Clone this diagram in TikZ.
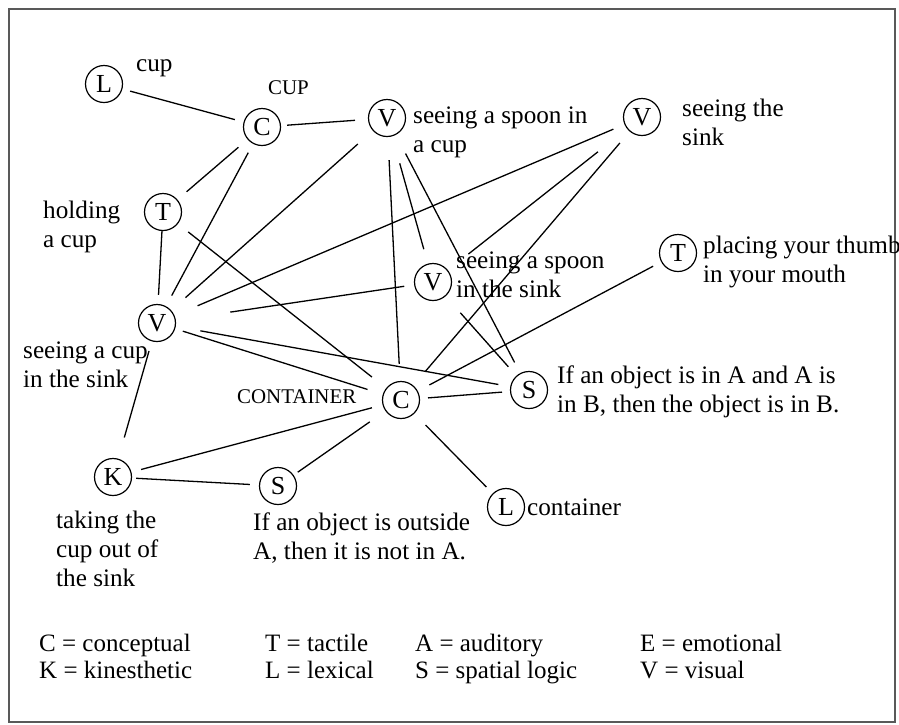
\documentclass[tikz,border=0pt]{standalone}
\usepackage{fontspec}
\setmainfont{Liberation Serif}
\usetikzlibrary{positioning}

\begin{document}
\begin{tikzpicture}[x=1pt, y=-1pt,
    sense/.style={circle, draw, line width=1.2pt, minimum size=37pt, inner sep=0pt, font=\fontsize{26}{26}\selectfont},
    lab/.style={anchor=west, align=left, inner sep=0pt, font=\fontsize{25.2}{29}\selectfont},
    tag/.style={anchor=west, inner sep=0pt, font=\fontsize{20.9}{24}\selectfont},
    keytext/.style={anchor=west, align=left, inner sep=0pt, font=\fontsize{25}{27}\selectfont},
    link/.style={line width=1.3pt}]
      \useasboundingbox (0,0) rectangle (899,724);
      % Frame
      \draw[line width=1.3pt, black!65] (9,9) rectangle (895,722);

      % Modes
      \node[sense] (l1) at (104,84) {L};
      \node[sense] (c1) at (262,127) {C};
      \node[sense] (v1) at (387,118) {V};
      \node[sense] (v4) at (642,117) {V};
      \node[sense] (t1) at (163,212) {T};
      \node[sense] (v3) at (433,282) {V};
      \node[sense] (t2) at (678,253) {T};
      \node[sense] (v2) at (157,323) {V};
      \node[sense] (c2) at (401,400) {C};
      \node[sense] (s1) at (529,390) {S};
      \node[sense] (k) at (113,477) {K};
      \node[sense] (s2) at (278,486) {S};
      \node[sense] (l2) at (506,507) {L};

      % Labels
      \node[lab] (l1txt) at (136,68) {cup};
      \node[tag] (c1txt) at (268,88) {CUP};
      \node[lab] (v1txt) at (413,132) {seeing a spoon in\\a cup};
      \node[lab] (v4txt) at (682,122) {seeing the\\sink};
      \node[lab] (t1txt) at (43,227) {holding\\a cup};
      \node[lab] (v3txt) at (456,275) {seeing a spoon\\in the sink};
      \node[lab] (t2txt) at (703,262) {placing your thumb\\in your mouth};
      \node[lab] (v2txt) at (23,365) {seeing a cup\\in the sink};
      \node[tag] (c2txt) at (237,397) {CONTAINER};
      \node[lab] (s1txt) at (557,392) {If an object is in A and A is\\in B, then the object is in B.};
      \node[lab] (ktxt) at (56,549) {taking the\\cup out of\\the sink};
      \node[lab] (s2txt) at (253,538) {If an object is outside\\A, then it is not in A.};
      \node[lab] (l2txt) at (527,507) {container};

      % Connections (gap at each end)
      \foreach \a/\b/\p/\q in {l1/c1/8/9, c1/v1/6/13, c1/t1/12/12, c1/v2/10/12,
          t1/v2/0/9, t1/c2/13/18, v1/v2/20/19, v1/c2/23/17, v1/v3/28/15,
          v1/s1/21/12, v4/v2/12/25, v4/v3/37/26, v4/c2/15/18, v3/v2/10/55,
          v3/s1/22/12, v2/s1/25/12, v2/c2/8/16, v2/k/10/22, t2/c2/9/13,
          c2/s1/8/8, k/c2/10/11, k/s2/4/9, s2/c2/5/19, l2/c2/9/16}
        \draw[link, shorten <=\p pt, shorten >=\q pt] (\a) -- (\b);

      % Key
      \node[keytext] (keyc) at (39,660) {\strut C = conceptual\\K = kinesthetic\strut};
      \node[keytext] (keyt) at (265,660) {\strut T = tactile\\L = lexical\strut};
      \node[keytext] (keya) at (415,660) {\strut A = auditory\\S = spatial logic\strut};
      \node[keytext] (keye) at (640,660) {\strut E = emotional\\V = visual\strut};
\end{tikzpicture}
\end{document}
